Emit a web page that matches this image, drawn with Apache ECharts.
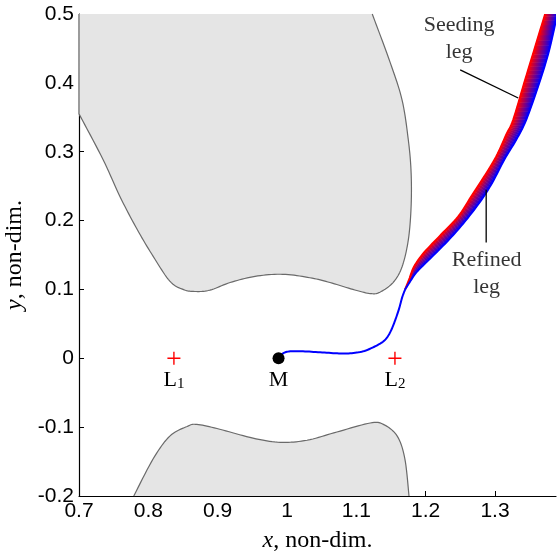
<!DOCTYPE html>
<html>
<head>
<meta charset="utf-8">
<script src="https://cdn.jsdelivr.net/npm/echarts@6/dist/echarts.min.js"></script>
<style>
  html, body { margin: 0; padding: 0; background: #fff; }
  #chart { width: 560px; height: 555px; }
</style>
</head>
<body>
<div id="chart"></div>
<script>
// Forbidden region above the x-axis: zero-velocity curve from the left edge to the top edge
const upperBoundary = [
  [0.700, 0.355], [0.735, 0.288], [0.759, 0.235], [0.784, 0.187], [0.807, 0.148],
  [0.831, 0.112], [0.850, 0.100], [0.867, 0.097], [0.889, 0.099], [0.918, 0.110],
  [0.954, 0.119], [0.994, 0.122], [1.033, 0.117], [1.062, 0.110], [1.095, 0.100],
  [1.120, 0.094], [1.134, 0.096], [1.153, 0.110], [1.166, 0.133], [1.175, 0.172],
  [1.179, 0.220], [1.179, 0.270], [1.175, 0.317], [1.166, 0.375], [1.149, 0.429],
  [1.123, 0.500]
];
// Forbidden region below the x-axis, from the bottom edge round to the bottom edge
const lowerBoundary = [
  [0.779, -0.200], [0.807, -0.146], [0.831, -0.113], [0.856, -0.099], [0.870, -0.096],
  [0.903, -0.103], [0.951, -0.116], [0.990, -0.122], [1.029, -0.119], [1.072, -0.107],
  [1.120, -0.094], [1.139, -0.096], [1.159, -0.113], [1.170, -0.146], [1.176, -0.200]
];

// Departure from the Moon, common to both legs
const transferStart = [
  [0.9878, 0.000], [0.9944, 0.0072], [1.0045, 0.0101], [1.0232, 0.0101], [1.0478, 0.0087],
  [1.0723, 0.0072], [1.0911, 0.0072], [1.1098, 0.0101], [1.1242, 0.0159], [1.1372, 0.0232],
  [1.1444, 0.0304], [1.1502, 0.0406], [1.1560, 0.0551], [1.1618, 0.0725], [1.1661, 0.0884],
  [1.1704, 0.100]
];
// The two legs after they separate (same number of points, matched pairwise)
const seedingLeg = [
  [1.1704, 0.100], [1.1762, 0.1145], [1.1834, 0.1333], [1.1978, 0.1536], [1.2224, 0.1797],
  [1.2469, 0.2058], [1.2657, 0.2348], [1.2844, 0.2638], [1.3017, 0.2928], [1.3162, 0.3246],
  [1.3263, 0.3464], [1.3422, 0.4000], [1.3566, 0.4478], [1.3724, 0.5000]
];
const refinedLeg = [
  [1.1704, 0.100], [1.1776, 0.1116], [1.1877, 0.1261], [1.2065, 0.1449], [1.2310, 0.1696],
  [1.2541, 0.1957], [1.2786, 0.2275], [1.2960, 0.2551], [1.3133, 0.2884], [1.3306, 0.3174],
  [1.3450, 0.3464], [1.3638, 0.4000], [1.3782, 0.4478], [1.3898, 0.5000]
];

const moon = [0.9878, 0];
const librationPoints = [[0.8369, 0], [1.1557, 0]];
const librationNames = [['L', '1'], ['L', '2']];

const xTicks = [0.7, 0.8, 0.9, 1, 1.1, 1.2, 1.3];
const yTicks = [-0.2, -0.1, 0, 0.1, 0.2, 0.3, 0.4, 0.5];
const xTickLabels = ['0.7', '0.8', '0.9', '1', '1.1', '1.2', '1.3'];
const yTickLabels = ['-0.2', '-0.1', '0', '0.1', '0.2', '0.3', '0.4', '0.5'];

const SERIF = '"Liberation Serif", "DejaVu Serif", serif';
const SANS = '"Liberation Sans", Arial, sans-serif';
const SEED_RED = '#ff0000';
const REFINED_BLUE = '#0000ff';

function tickLabel(ticks, labels) {
  return function (v) {
    const i = ticks.findIndex(t => Math.abs(t - v) < 1e-9);
    return i < 0 ? '' : labels[i];
  };
}

// Catmull-Rom resampling in pixel space so curves render smoothly
function smoothPixels(pts, steps) {
  const out = [];
  const n = pts.length;
  for (let i = 0; i < n - 1; i++) {
    const p0 = pts[Math.max(i - 1, 0)], p1 = pts[i], p2 = pts[i + 1], p3 = pts[Math.min(i + 2, n - 1)];
    for (let k = 0; k < steps; k++) {
      const t = k / steps, t2 = t * t, t3 = t2 * t;
      const f = j => 0.5 * ((2 * p1[j]) + (-p0[j] + p2[j]) * t +
        (2 * p0[j] - 5 * p1[j] + 4 * p2[j] - p3[j]) * t2 +
        (-p0[j] + 3 * p1[j] - 3 * p2[j] + p3[j]) * t3);
      out.push([f(0), f(1)]);
    }
  }
  out.push(pts[n - 1].slice());
  return out;
}

// Grey forbidden region: filled polygon plus outline along the curve only
function regionSeries(boundary, closing, outlineLead) {
  return {
    type: 'custom',
    coordinateSystem: 'cartesian2d',
    silent: true,
    z: 1,
    data: [boundary[0]],
    renderItem: function (params, api) {
      const curve = smoothPixels(boundary.map(p => api.coord(p)), 10);
      const fill = curve.concat(closing.map(p => api.coord(p)));
      const outline = outlineLead.map(p => api.coord(p)).concat(curve);
      return {
        type: 'group',
        children: [
          { type: 'polygon', shape: { points: fill }, style: { fill: '#e5e5e5', stroke: null } },
          { type: 'polyline', shape: { points: outline }, style: { stroke: '#6a6a6a', lineWidth: 1.2, fill: null } }
        ]
      };
    }
  };
}

const chart = echarts.init(document.getElementById('chart'), null, { renderer: 'canvas' });

const option = {
  animation: false,
  backgroundColor: '#ffffff',
  grid: { left: 79, right: 4, top: 14, bottom: 59, containLabel: false, outerBoundsMode: 'none' },
  xAxis: {
    type: 'value',
    min: 0.7,
    max: 1.388,
    interval: 0.1,
    splitLine: { show: false },
    axisLine: { show: true, onZero: false, lineStyle: { color: '#000', width: 1.2 } },
    axisTick: { show: true, inside: true, length: 5, customValues: xTicks, lineStyle: { color: '#000', width: 1 } },
    axisLabel: {
      customValues: xTicks,
      formatter: tickLabel(xTicks, xTickLabels),
      color: '#000', fontFamily: SANS, fontSize: 21, margin: 5
    },
    name: '{i|x}{r|, non-dim.}',
    nameLocation: 'middle',
    nameGap: 33,
    nameTextStyle: {
      rich: {
        i: { fontFamily: SERIF, fontStyle: 'italic', fontSize: 24, color: '#000' },
        r: { fontFamily: SERIF, fontSize: 24, color: '#000' }
      }
    }
  },
  yAxis: {
    type: 'value',
    min: -0.2,
    max: 0.5,
    interval: 0.1,
    splitLine: { show: false },
    axisLine: { show: true, onZero: false, lineStyle: { color: '#000', width: 1.2 } },
    axisTick: { show: true, inside: true, length: 5, customValues: yTicks, lineStyle: { color: '#000', width: 1 } },
    axisLabel: {
      customValues: yTicks,
      formatter: tickLabel(yTicks, yTickLabels),
      color: '#000', fontFamily: SANS, fontSize: 21, margin: 5
    },
    name: '{i|y}{r|, non-dim.}',
    nameLocation: 'middle',
    nameGap: 45,
    nameRotate: 90,
    nameTextStyle: {
      rich: {
        i: { fontFamily: SERIF, fontStyle: 'italic', fontSize: 24, color: '#000' },
        r: { fontFamily: SERIF, fontSize: 24, color: '#000' }
      }
    }
  },
  series: [
    regionSeries(upperBoundary, [[0.7, 0.5]], [[0.7, 0.5]]),
    regionSeries(lowerBoundary, [], []),
    // Transfer: shared departure, colour band from the seeding leg (red) to the refined leg (blue)
    {
      type: 'custom',
      coordinateSystem: 'cartesian2d',
      silent: true,
      clip: true,
      z: 3,
      data: [transferStart[0]],
      renderItem: function (params, api) {
        const steps = 8;
        const start = smoothPixels(transferStart.map(p => api.coord(p)), steps);
        const seed = smoothPixels(seedingLeg.map(p => api.coord(p)), steps);
        const ref = smoothPixels(refinedLeg.map(p => api.coord(p)), steps);
        const children = [];
        for (let i = 0; i < seed.length - 1; i++) {
          const a = seed[i], b = seed[i + 1], c = ref[i + 1], d = ref[i];
          const s = [(a[0] + b[0]) / 2, (a[1] + b[1]) / 2];
          const r = [(c[0] + d[0]) / 2, (c[1] + d[1]) / 2];
          if (Math.hypot(r[0] - s[0], r[1] - s[1]) < 0.5) continue;
          const grad = new echarts.graphic.LinearGradient(s[0], s[1], r[0], r[1], [
            { offset: 0, color: SEED_RED },
            { offset: 1, color: REFINED_BLUE }
          ], true);
          children.push({ type: 'polygon', shape: { points: [a, b, c, d] }, style: { fill: grad, stroke: grad, lineWidth: 0.6 } });
        }
        children.push({ type: 'polyline', shape: { points: seed }, style: { stroke: SEED_RED, lineWidth: 2, fill: null } });
        children.push({ type: 'polyline', shape: { points: start.concat(ref.slice(1)) }, style: { stroke: REFINED_BLUE, lineWidth: 2, fill: null } });
        return { type: 'group', children: children };
      }
    },
    // Moon
    {
      type: 'scatter',
      data: [moon],
      symbol: 'circle',
      symbolSize: 12,
      z: 6,
      itemStyle: { color: '#000', opacity: 1 },
      label: {
        show: true, position: 'bottom', distance: 5,
        formatter: 'M',
        fontFamily: SERIF, fontSize: 22, color: '#000'
      },
      silent: true
    },
    // Libration points L1, L2
    {
      type: 'scatter',
      data: librationPoints,
      symbol: 'path://M0,5L10,5M5,0L5,10',
      symbolSize: 13,
      z: 6,
      itemStyle: { color: 'rgba(0,0,0,0)', borderColor: '#ff0000', borderWidth: 1.4, opacity: 1 },
      label: {
        show: true, position: 'bottom', distance: 2,
        formatter: function (p) { return '{m|' + librationNames[p.dataIndex][0] + '}{s|' + librationNames[p.dataIndex][1] + '}'; },
        rich: {
          m: { fontFamily: SERIF, fontSize: 22, lineHeight: 24, color: '#000', verticalAlign: 'bottom' },
          s: { fontFamily: SERIF, fontSize: 15, lineHeight: 12, color: '#000', verticalAlign: 'bottom' }
        }
      },
      silent: true
    },
    // leader lines for the annotations
    {
      type: 'line',
      data: [[1.2498, 0.4188], [1.3335, 0.378]],
      showSymbol: false, z: 7, silent: true,
      lineStyle: { color: '#000', width: 1.3 }
    },
    {
      type: 'line',
      data: [[1.2873, 0.2449], [1.2873, 0.1681]],
      showSymbol: false, z: 7, silent: true,
      lineStyle: { color: '#000', width: 1.3 }
    },
    {
      type: 'scatter',
      data: [
        { value: [1.2483, 0.4645], text: 'Seeding\nleg' },
        { value: [1.2880, 0.1232], text: 'Refined\nleg' }
      ],
      symbolSize: 0,
      z: 8,
      label: {
        show: true, position: 'inside',
        formatter: function (p) { return p.data.text; },
        fontFamily: SERIF, fontSize: 22, lineHeight: 27, color: '#000', align: 'center'
      },
      silent: true
    }
  ]
};

chart.setOption(option);
</script>
</body>
</html>
